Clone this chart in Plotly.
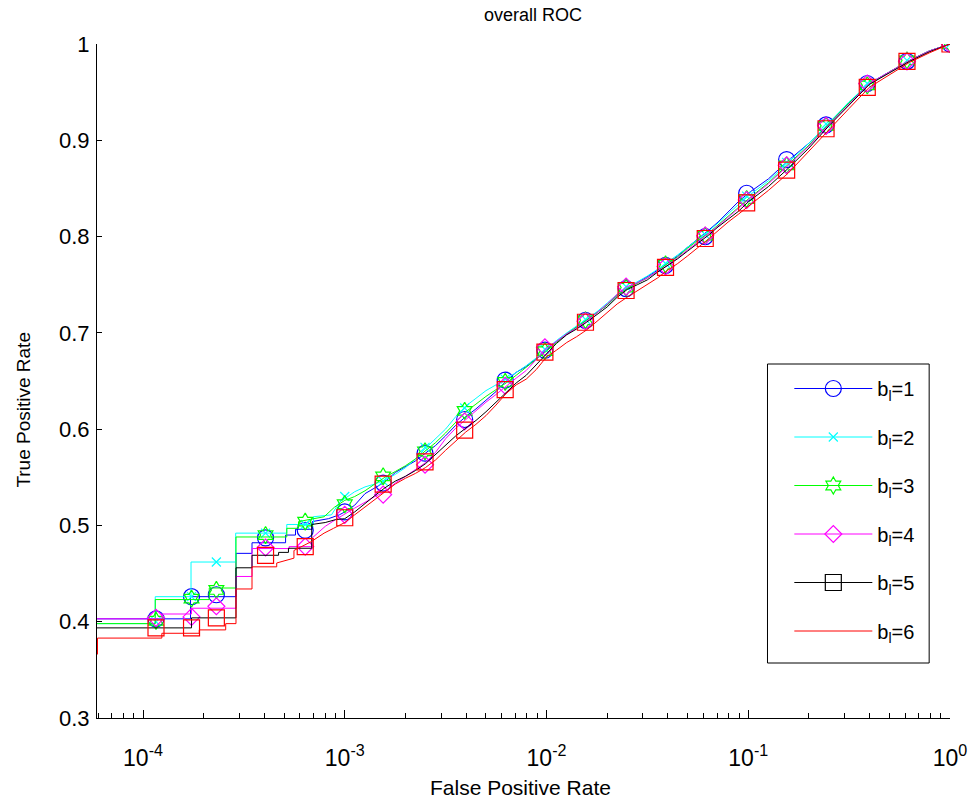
import plotly.graph_objects as go

# ---------------- data ----------------
series_names = ["b<sub>l</sub>=1", "b<sub>l</sub>=2", "b<sub>l</sub>=3",
                "b<sub>l</sub>=4", "b<sub>l</sub>=5", "b<sub>l</sub>=6"]

# common FPR sampling used for the upper part of every curve
grid_fpr = [1.00e-3, 1.12e-3, 1.26e-3, 1.41e-3, 1.58e-3, 1.78e-3, 2.00e-3, 2.24e-3, 2.51e-3, 2.82e-3,
            3.16e-3, 3.55e-3, 3.98e-3, 4.47e-3, 5.01e-3, 5.62e-3, 6.31e-3, 7.08e-3, 7.94e-3, 8.91e-3,
            1.00e-2, 1.12e-2, 1.26e-2, 1.41e-2, 1.58e-2, 1.78e-2, 2.00e-2, 2.24e-2, 2.51e-2, 2.82e-2,
            3.16e-2, 3.55e-2, 3.98e-2, 4.47e-2, 5.01e-2, 5.62e-2, 6.31e-2, 7.08e-2, 7.94e-2, 8.91e-2,
            0.100, 0.126, 0.158, 0.200, 0.251, 0.316, 0.398, 0.501, 0.631, 0.794, 1.0]

# low-FPR staircase parts of each curve
b1_low_fpr = [5e-5, 1.72e-4, 1.72e-4, 2.89e-4, 2.89e-4, 3.47e-4, 3.47e-4, 5.09e-4, 5.09e-4,
              5.70e-4, 5.70e-4, 6.9e-4, 6.9e-4, 8.3e-4, 9.4e-4]
b1_low_tpr = [0.403, 0.403, 0.426, 0.426, 0.471, 0.471, 0.482, 0.482, 0.490,
              0.490, 0.496, 0.496, 0.504, 0.507, 0.511]
b2_low_fpr = [5e-5, 1.15e-4, 1.15e-4, 1.73e-4, 1.73e-4, 2.88e-4, 2.88e-4, 5.16e-4, 5.16e-4,
              7.0e-4, 7.0e-4, 8.6e-4, 9.4e-4]
b2_low_tpr = [0.398, 0.398, 0.426, 0.426, 0.462, 0.462, 0.492, 0.492, 0.501,
              0.501, 0.509, 0.511, 0.524]
b3_low_fpr = [5e-5, 1.15e-4, 1.15e-4, 2.13e-4, 2.13e-4, 2.89e-4, 2.89e-4, 5.16e-4, 5.16e-4,
              5.90e-4, 5.90e-4, 7.9e-4, 8.9e-4]
b3_low_tpr = [0.398, 0.398, 0.423, 0.423, 0.435, 0.435, 0.488, 0.488, 0.497,
              0.497, 0.504, 0.509, 0.519]
b4_low_fpr = [5e-5, 1.24e-4, 1.24e-4, 1.74e-4, 1.74e-4, 2.89e-4, 2.89e-4, 3.47e-4, 3.47e-4,
              5.3e-4, 5.3e-4, 6.9e-4, 6.9e-4, 8.0e-4, 9.0e-4]
b4_low_tpr = [0.403, 0.403, 0.408, 0.408, 0.414, 0.414, 0.447, 0.447, 0.476,
              0.476, 0.478, 0.478, 0.487, 0.499, 0.506]
b5_low_fpr = [5e-5, 1.74e-4, 1.74e-4, 2.89e-4, 2.89e-4, 3.47e-4, 3.47e-4, 4.70e-4, 4.70e-4,
              5.26e-4, 5.26e-4, 6.86e-4, 6.86e-4, 8.0e-4, 9.0e-4]
b5_low_tpr = [0.3936, 0.3936, 0.404, 0.404, 0.456, 0.456, 0.469, 0.469, 0.472,
              0.472, 0.4763, 0.4763, 0.501, 0.503, 0.506]
b6_low_fpr = [5.95e-5, 5.95e-5, 1.24e-4, 1.24e-4, 1.90e-4, 1.90e-4, 2.57e-4, 2.57e-4, 2.89e-4,
              2.89e-4, 3.47e-4, 3.47e-4, 4.60e-4, 4.60e-4, 5.6e-4, 5.6e-4, 6.8e-4, 7.9e-4, 8.8e-4]
b6_low_tpr = [0.366, 0.383, 0.383, 0.388, 0.388, 0.3915, 0.3915, 0.398, 0.398,
              0.434, 0.434, 0.457, 0.457, 0.461, 0.466, 0.474, 0.483, 0.492, 0.497]

# TPR of each curve at grid_fpr
b1_tpr = [.514, .521, .533, .539, .545, .555, .561, .567, .575, .583, .593, .604, .613, .621, .630, .639, .650, .659, .665, .673,
          .682, .691, .699, .706, .713, .721, .729, .739, .746, .752, .758, .765, .772, .780, .789, .797, .806, .815, .826, .836,
          .845, .860, .879, .897, .917, .939, .959, .971, .983, .993, 1.0]
b2_tpr = [.528, .535, .540, .543, .547, .553, .560, .569, .580, .590, .600, .613, .624, .632, .640, .646, .652, .659, .666, .674,
          .683, .692, .700, .707, .714, .722, .731, .740, .747, .753, .759, .766, .773, .781, .789, .797, .805, .814, .824, .833,
          .842, .858, .877, .897, .918, .940, .959, .971, .983, .993, 1.0]
b3_tpr = [.526, .530, .536, .543, .550, .556, .562, .569, .577, .586, .596, .607, .618, .626, .634, .641, .648, .656, .664, .672,
          .681, .690, .699, .706, .713, .721, .729, .739, .746, .752, .757, .764, .772, .779, .788, .796, .803, .812, .821, .830,
          .839, .856, .875, .895, .917, .939, .958, .971, .983, .993, 1.0]
b4_tpr = [.512, .518, .524, .530, .535, .544, .551, .558, .565, .576, .590, .601, .610, .619, .628, .636, .645, .653, .661, .672,
          .684, .691, .699, .705, .712, .721, .730, .740, .748, .752, .757, .764, .770, .778, .786, .794, .802, .811, .820, .829,
          .838, .855, .874, .894, .916, .938, .959, .971, .983, .993, 1.0]
b5_tpr = [.507, .514, .523, .531, .539, .546, .551, .557, .564, .574, .584, .593, .601, .609, .618, .628, .639, .648, .656, .667,
          .679, .689, .698, .704, .711, .719, .727, .737, .745, .750, .755, .763, .770, .777, .785, .793, .801, .810, .818, .826,
          .836, .852, .871, .892, .915, .937, .958, .970, .982, .992, 1.0]
b6_tpr = [.503, .511, .519, .527, .535, .543, .549, .554, .560, .568, .578, .588, .597, .605, .614, .625, .637, .646, .652, .662,
          .675, .682, .690, .696, .703, .712, .721, .730, .737, .744, .750, .757, .765, .772, .780, .788, .797, .806, .815, .823,
          .831, .848, .866, .889, .911, .933, .955, .968, .981, .991, 1.0]

# marker positions and marker TPR values
mk_fpr = [1.16e-4, 1.74e-4, 2.31e-4, 4.05e-4, 6.37e-4, 1.0e-3, 1.55e-3, 2.50e-3, 3.93e-3, 6.24e-3, 9.82e-3,
          1.56e-2, 2.48e-2, 3.89e-2, 6.12e-2, 9.82e-2, 0.155, 0.243, 0.389, 0.612, 1.0]
b1_mk = [0.403, 0.426, 0.428, 0.487, 0.495, 0.514, 0.544, 0.575, 0.610, 0.651, 0.682,
         0.713, 0.746, 0.770, 0.800, 0.845, 0.880, 0.916, 0.959, 0.982, 1.0]
b2_mk = [0.400, 0.426, 0.462, 0.492, 0.501, 0.530, 0.546, 0.581, 0.622, 0.652, 0.683,
         0.714, 0.748, 0.772, 0.802, 0.842, 0.877, 0.917, 0.959, 0.983, 1.0]
b3_mk = [0.401, 0.424, 0.433, 0.490, 0.504, 0.522, 0.551, 0.577, 0.619, 0.649, 0.681,
         0.713, 0.747, 0.771, 0.801, 0.839, 0.874, 0.915, 0.957, 0.983, 1.0]
b4_mk = [0.404, 0.405, 0.416, 0.477, 0.478, 0.511, 0.532, 0.563, 0.608, 0.645, 0.685,
         0.712, 0.748, 0.769, 0.801, 0.838, 0.874, 0.915, 0.959, 0.982, 1.0]
b5_mk = [0.3936, 0.3936, 0.404, 0.469, 0.478, 0.508, 0.543, 0.566, 0.599, 0.641, 0.680,
         0.711, 0.744, 0.768, 0.798, 0.835, 0.869, 0.912, 0.955, 0.982, 1.0]

x_tickvals = [1e-4, 1e-3, 1e-2, 1e-1, 1.0]
x_ticktext = ["10<sup>-4</sup>", "10<sup>-3</sup>", "10<sup>-2</sup>", "10<sup>-1</sup>", "10<sup>0</sup>"]
y_tickvals = [0.3, 0.4, 0.5, 0.6, 0.7, 0.8, 0.9, 1.0]
y_ticktext = ["0.3", "0.4", "0.5", "0.6", "0.7", "0.8", "0.9", "1"]

# ---------------- styles ----------------
colors = ["#0000FF", "#00FFFF", "#00FF00", "#FF00FF", "#000000", "#FF0000"]
symbols = ["circle-open", "x-thin-open", "hexagram-open", "diamond-open", "square-open", None]
msizes = [16, 9, 13, 13, 16, None]

lows = [(b1_low_fpr, b1_low_tpr), (b2_low_fpr, b2_low_tpr), (b3_low_fpr, b3_low_tpr),
        (b4_low_fpr, b4_low_tpr), (b5_low_fpr, b5_low_tpr), (b6_low_fpr, b6_low_tpr)]
grids = [b1_tpr, b2_tpr, b3_tpr, b4_tpr, b5_tpr, b6_tpr]
marks = [b1_mk, b2_mk, b3_mk, b4_mk, b5_mk, None]
# colour that the markers actually show in the reference (b_l=5 squares appear red)
mark_colors = ["#0000FF", "#00FFFF", "#00FF00", "#FF00FF", "#FF0000", None]

fig = go.Figure()

for i in range(6):
    lx, ly = lows[i]
    fig.add_trace(go.Scatter(
        x=lx + grid_fpr, y=ly + grids[i], mode="lines",
        line=dict(color=colors[i], width=1), showlegend=False, hoverinfo="skip"))
    if marks[i] is not None:
        fig.add_trace(go.Scatter(
            x=mk_fpr, y=marks[i], mode="markers", showlegend=False, hoverinfo="skip",
            marker=dict(symbol=symbols[i], size=msizes[i], color=mark_colors[i],
                        line=dict(color=mark_colors[i], width=1.2))))

# legend entries
for i in range(6):
    if symbols[i] is None:
        fig.add_trace(go.Scatter(x=[None], y=[None], mode="lines", name=series_names[i],
                                 legendgroup="g%d" % i,
                                 line=dict(color=colors[i], width=1)))
    else:
        fig.add_trace(go.Scatter(x=[None], y=[None], mode="lines+markers", name=series_names[i],
                                 legendgroup="g%d" % i,
                                 line=dict(color=colors[i], width=1),
                                 marker=dict(symbol=symbols[i], size=msizes[i], color=colors[i],
                                             line=dict(color=colors[i], width=1.2))))

minor_vals = []
for e in [1e-5, 1e-4, 1e-3, 1e-2, 1e-1]:
    for k in range(2, 10):
        minor_vals.append(k * e)

PW, PH, L, T = 860.0, 674.0, 97.0, 44.0

fig.update_layout(
    width=979, height=800, autosize=False,
    margin=dict(l=97, r=22, t=44, b=82, pad=0),
    paper_bgcolor="white", plot_bgcolor="white",
    font=dict(family="Liberation Sans, Arial, sans-serif", color="black", size=20),
    title=dict(text="overall ROC", x=533 / 979, xanchor="center", y=1 - 15 / 800,
               yanchor="middle", font=dict(size=18)),
    xaxis=dict(type="log", range=[-4.228, 0.0], showline=True, linecolor="black", linewidth=1,
               mirror=False, showgrid=False, zeroline=False,
               ticks="inside", ticklen=8, tickcolor="black", tickwidth=1,
               tickmode="array", tickvals=x_tickvals, ticktext=x_ticktext,
               tickfont=dict(size=23), ticklabelstandoff=19,
               minor=dict(ticks="inside", ticklen=5, tickcolor="black", tickvals=minor_vals,
                          showgrid=False)),
    yaxis=dict(range=[0.3, 1.0], showline=True, linecolor="black", linewidth=1,
               mirror=False, showgrid=False, zeroline=False,
               ticks="inside", ticklen=5, tickcolor="black", tickwidth=1,
               tickmode="array", tickvals=y_tickvals, ticktext=y_ticktext,
               tickfont=dict(size=22), ticklabelstandoff=2),
    legend=dict(x=(795 - L) / PW, y=1 - (369 - T) / PH, xanchor="left", yanchor="top",
                bgcolor="rgba(0,0,0,0)", borderwidth=0,
                font=dict(size=20), itemwidth=78, tracegroupgap=19.5,
                traceorder="grouped", itemclick=False),
    shapes=[dict(type="rect", xref="paper", yref="paper",
                 x0=(773 - L) / PW, x1=(936 - L) / PW,
                 y0=1 - (663 - T) / PH, y1=1 - (364 - T) / PH,
                 line=dict(color="black", width=1), fillcolor="white", layer="above")],
    annotations=[
        dict(text="False Positive Rate", xref="paper", yref="paper",
             x=(524 - L) / PW, y=1 - (787 - T) / PH, xanchor="center", yanchor="middle",
             showarrow=False, font=dict(size=21)),
        dict(text="True Positive Rate", xref="paper", yref="paper", textangle=-90,
             x=(22 - L) / PW, y=1 - (410 - T) / PH, xanchor="center", yanchor="middle",
             showarrow=False, font=dict(size=19)),
    ],
)

fig.write_html("out.html")
